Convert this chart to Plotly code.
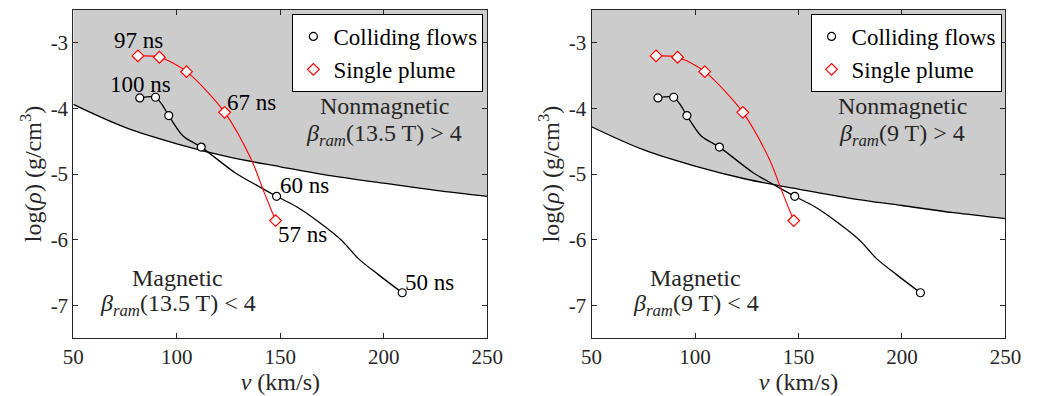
import plotly.graph_objects as go

# ---- data ----
cf_v = [82.1, 89.7, 96.1, 111.8, 148.2, 208.9]
cf_rho = [-3.84, -3.83, -4.11, -4.59, -5.34, -6.81]
# colliding flows trajectory (line, includes unmarked intermediate samples)
cf_line_v = [82.1, 89.7, 92.8, 96.1, 103.0, 111.8, 128.1, 139.1, 148.2, 157.9, 168.9, 179.9, 187.7, 197.2, 208.9]
cf_line_rho = [-3.84, -3.83, -3.94, -4.11, -4.42, -4.59, -4.98, -5.18, -5.34, -5.50, -5.74, -6.02, -6.29, -6.53, -6.81]

sp_v = [81.2, 91.6, 104.7, 123.1, 147.7]
sp_rho = [-3.20, -3.22, -3.44, -4.06, -5.71]
sp_line_v = [81.2, 91.6, 104.7, 123.1, 136.0, 142.2, 147.7]
sp_line_rho = [-3.20, -3.22, -3.44, -4.06, -4.78, -5.28, -5.71]

# beta_ram = 4 boundary curves
bnd_v = [50, 75, 100, 125, 150, 175, 200, 225, 250]
bnd_135 = [-3.94, -4.29, -4.54, -4.74, -4.89, -5.03, -5.14, -5.25, -5.34]
bnd_9 = [-4.28, -4.63, -4.88, -5.08, -5.23, -5.37, -5.48, -5.59, -5.68]

time_labels = ["97 ns", "100 ns", "67 ns", "60 ns", "57 ns", "50 ns"]
time_pos_v = [81.7, 82.5, 136.1, 161.8, 160.6, 222.2]
time_pos_rho = [-2.97, -3.63, -3.91, -5.18, -5.92, -6.65]

xticks = [50, 100, 150, 200, 250]
yticks = [-7, -6, -5, -4, -3]
X_RANGE = [50, 250]
Y_RANGE = [-7.5, -2.5]

FONT = "'Liberation Serif', 'Times New Roman', 'DejaVu Serif', serif"
TXT = "#262626"
GREY = "#cccccc"

W, H = 1039, 396
fig = go.Figure()

panels = [
    ("x", "y", bnd_135, "13.5 T", "legend", [64, 489]),
    ("x2", "y2", bnd_9, "9 T", "legend2", [596, 1021]),
]

for i, (xa, ya, bnd, field, leg, px) in enumerate(panels):
    # top edge for fill
    fig.add_trace(go.Scatter(x=bnd_v, y=[Y_RANGE[1]] * len(bnd_v), mode="lines",
                             line=dict(width=0, color=GREY), showlegend=False,
                             xaxis=xa, yaxis=ya, hoverinfo="skip"))
    fig.add_trace(go.Scatter(x=bnd_v, y=bnd, mode="lines", fill="tonexty",
                             fillcolor=GREY, line=dict(color="black", width=1.3, shape="spline"),
                             showlegend=False, xaxis=xa, yaxis=ya))
    fig.add_trace(go.Scatter(x=cf_line_v, y=cf_line_rho, mode="lines",
                             line=dict(color="black", width=1.3, shape="spline", smoothing=0.8),
                             showlegend=False, xaxis=xa, yaxis=ya))
    fig.add_trace(go.Scatter(x=sp_line_v, y=sp_line_rho, mode="lines",
                             line=dict(color="red", width=1.1, shape="spline", smoothing=0.8),
                             showlegend=False, xaxis=xa, yaxis=ya))
    fig.add_trace(go.Scatter(x=cf_v, y=cf_rho, mode="markers", name="Colliding flows",
                             marker=dict(symbol="circle", size=8, color="white",
                                         line=dict(color="black", width=1.2)),
                             xaxis=xa, yaxis=ya, legend=leg))
    fig.add_trace(go.Scatter(x=sp_v, y=sp_rho, mode="markers", name="Single plume",
                             marker=dict(symbol="diamond", size=9, color="white",
                                         line=dict(color="red", width=1.2)),
                             xaxis=xa, yaxis=ya, legend=leg))
    # region labels
    fig.add_annotation(x=200.1, y=-3.97, xref=xa, yref=ya, text="Nonmagnetic",
                       showarrow=False, font=dict(size=24, color=TXT, family=FONT))
    fig.add_annotation(x=200.1, y=-4.40, xref=xa, yref=ya,
                       text="<i>β</i><sub><i>ram</i></sub>(" + field + ") &gt; 4",
                       showarrow=False, font=dict(size=24, color=TXT, family=FONT))
    fig.add_annotation(x=100.4, y=-6.59, xref=xa, yref=ya, text="Magnetic",
                       showarrow=False, font=dict(size=24, color=TXT, family=FONT))
    fig.add_annotation(x=100.4, y=-7.00, xref=xa, yref=ya,
                       text="<i>β</i><sub><i>ram</i></sub>(" + field + ") &lt; 4",
                       showarrow=False, font=dict(size=24, color=TXT, family=FONT))
    if i == 0:
        for t, tv, tr in zip(time_labels, time_pos_v, time_pos_rho):
            fig.add_annotation(x=tv, y=tr, xref=xa, yref=ya, text=t, showarrow=False,
                               font=dict(size=23, color="black", family=FONT))

    dom = [px[0] / W, px[1] / W]
    axis_common = dict(showgrid=False, zeroline=False, showline=True, linecolor=TXT,
                       linewidth=1, mirror="ticks", ticks="inside", ticklen=5,
                       tickcolor=TXT, tickfont=dict(size=21, color=TXT, family=FONT))
    xkey = "xaxis" if xa == "x" else "xaxis2"
    ykey = "yaxis" if ya == "y" else "yaxis2"
    fig.update_layout(**{
        xkey: dict(domain=dom, range=X_RANGE, tickvals=xticks,
                   ticktext=[str(t) for t in xticks], anchor=ya,
                   title=dict(text="<i>v</i> (km/s)", font=dict(size=24, color=TXT, family=FONT),
                              standoff=1),
                   **axis_common),
        ykey: dict(domain=[1 - 338 / H, 1 - 10 / H], range=Y_RANGE, tickvals=yticks,
                   ticktext=[str(t) for t in yticks], anchor=xa,
                   title=dict(text="log(<i>ρ</i>) (g/cm<sup>3</sup>)",
                              font=dict(size=24, color=TXT, family=FONT), standoff=2),
                   **axis_common),
    })
    fig.update_layout(**{leg: dict(x=(px[1] - 4) / W, y=1 - 14 / H, xanchor="right", yanchor="top",
                                   bgcolor="white", bordercolor="black", borderwidth=1,
                                   font=dict(size=23, color="black", family=FONT),
                                   itemwidth=30, tracegroupgap=0, traceorder="normal")})

fig.update_layout(width=W, height=H, margin=dict(l=0, r=0, t=0, b=0),
                  plot_bgcolor="white", paper_bgcolor="white", showlegend=True,
                  font=dict(family=FONT, color=TXT))
fig.write_html("out.html")
